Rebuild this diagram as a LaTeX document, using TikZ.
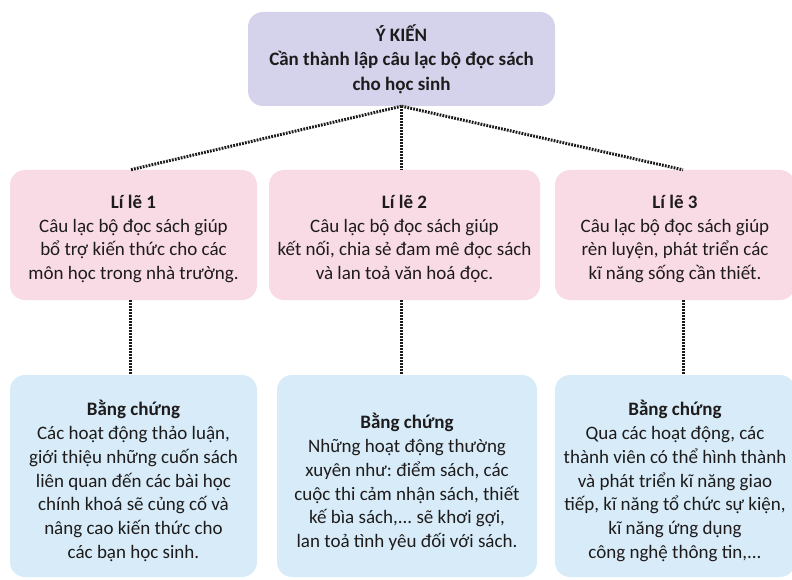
\documentclass[tikz,border=0pt]{standalone}
\usepackage{fontspec}
\setmainfont{Carlito}
\frenchspacing
\definecolor{lav}{HTML}{D5D3EC}
\definecolor{pinkbox}{HTML}{F9DBE5}
\definecolor{bluebox}{HTML}{D7ECF8}
\definecolor{ink}{HTML}{1E1B1C}
\begin{document}
\begin{tikzpicture}[x=1pt,y=-1pt,
  box/.style={rounded corners=15pt, inner sep=0pt},
  txt/.style={inner sep=0pt, align=center, text=ink, font=\fontsize{19}{23.7}\selectfont},
  topbox/.style={box, fill=lav, minimum width=307pt, minimum height=94pt},
  reason/.style={box, fill=pinkbox, minimum height=130pt},
  proof/.style={box, fill=bluebox, minimum height=202pt},
  dots/.style={line width=3pt, dash pattern=on 1.8pt off 1.2pt, ink}
]
\useasboundingbox (0,0) rectangle (792,580);
\node[topbox] (top) at (401.5,59) {};
\node[txt, font=\fontsize{19}{24.5}\selectfont] (topt) at (top.center) {\textbf{Ý KIẾN}\\\textbf{Cần thành lập câu lạc bộ đọc sách}\\\textbf{cho học sinh}};
\node[reason, minimum width=247pt] (p1) at (133.5,235) {};
\node[reason, minimum width=271pt] (p2) at (404.5,235) {};
\node[reason, minimum width=240pt] (p3) at (675,235) {};
\node[txt] (p1t) at ([yshift=-4pt]p1.center) {\textbf{Lí lẽ 1}\\Câu lạc bộ đọc sách giúp\\bổ trợ kiến thức cho các\\môn học trong nhà trường.};
\node[txt] (p2t) at ([yshift=-4pt]p2.center) {\textbf{Lí lẽ 2}\\Câu lạc bộ đọc sách giúp\\kết nối, chia sẻ đam mê đọc sách\\và lan toả văn hoá đọc.};
\node[txt] (p3t) at ([yshift=-4pt]p3.center) {\textbf{Lí lẽ 3}\\Câu lạc bộ đọc sách giúp\\rèn luyện, phát triển các\\kĩ năng sống cần thiết.};
\node[proof, minimum width=247pt] (b1) at (133.5,476) {};
\node[proof, minimum width=260pt] (b2) at (407,476) {};
\node[proof, minimum width=240pt] (b3) at (675,476) {};
\node[txt] (b1t) at ([yshift=-5pt]b1.center) {\textbf{Bằng chứng}\\Các hoạt động thảo luận,\\giới thiệu những cuốn sách\\liên quan đến các bài học\\chính khoá sẽ củng cố và\\nâng cao kiến thức cho\\các bạn học sinh.};
\node[txt] (b2t) at ([yshift=-6pt]b2.center) {\textbf{Bằng chứng}\\Những hoạt động thường\\xuyên như: điểm sách, các\\cuộc thi cảm nhận sách, thiết\\kế bìa sách,... sẽ khơi gợi,\\lan toả tình yêu đối với sách.};
\node[txt] (b3t) at ([yshift=-5pt]b3.center) {\textbf{Bằng chứng}\\Qua các hoạt động, các\\thành viên có thể hình thành\\và phát triển kĩ năng giao\\tiếp, kĩ năng tổ chức sự kiện,\\kĩ năng ứng dụng\\công nghệ thông tin,...};
\draw[dots] (top.south) -- ([xshift=-3pt]p1.north);
\draw[dots] (top.south) -- (top.south |- p2.north);
\draw[dots] (top.south) -- ([xshift=8pt]p3.north);
\draw[dots] ([xshift=-3pt]p1.south) -- ([xshift=-3pt]b1.north);
\draw[dots] (top.south |- p2.south) -- (top.south |- b2.north);
\draw[dots] ([xshift=8pt]p3.south) -- ([xshift=8pt]b3.north);
\end{tikzpicture}
\end{document}
